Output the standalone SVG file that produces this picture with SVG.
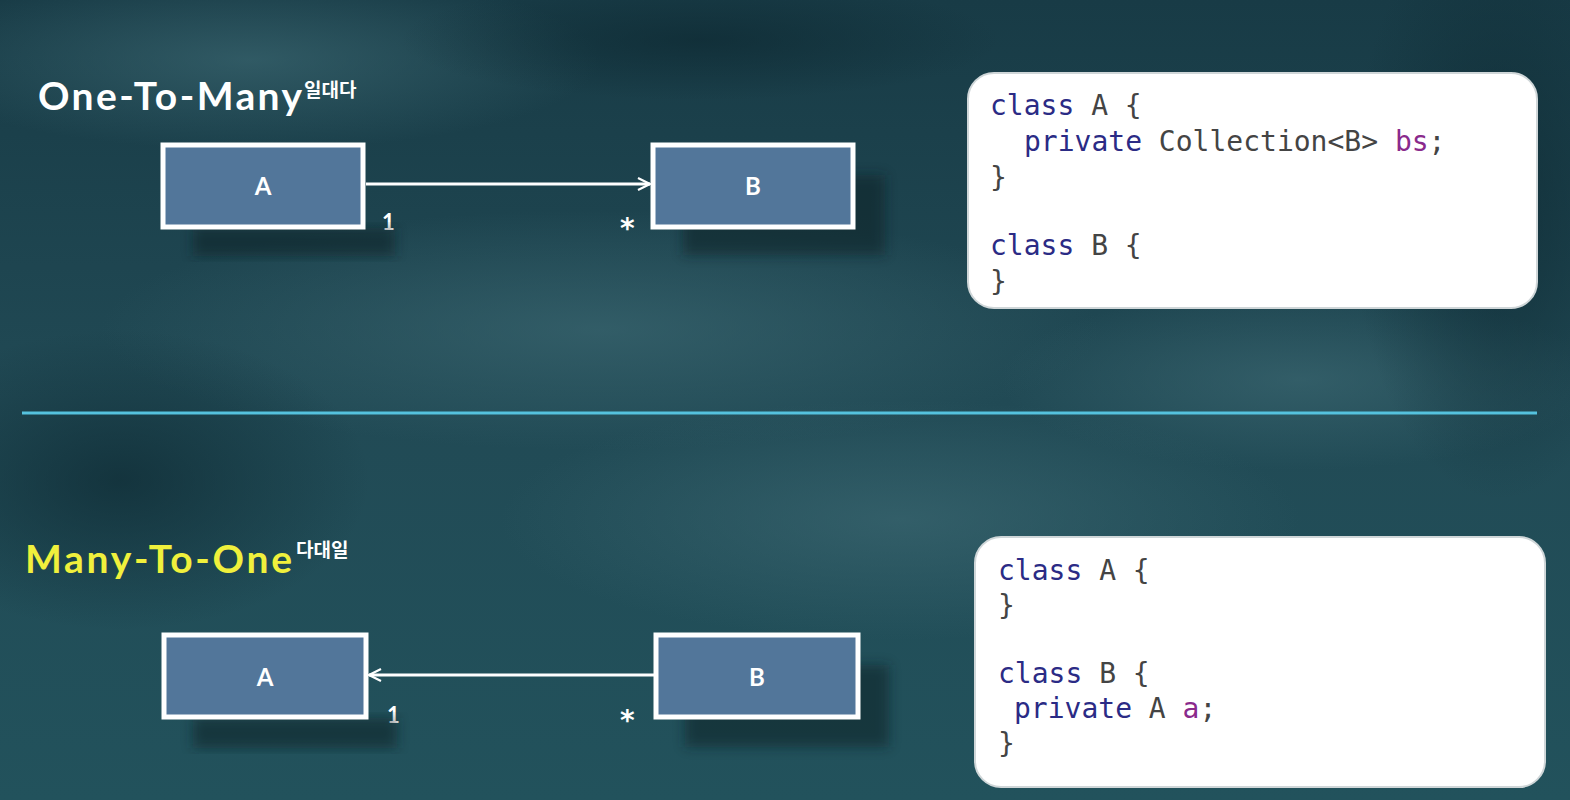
<svg xmlns="http://www.w3.org/2000/svg" width="1570" height="800" viewBox="0 0 1570 800">
<defs>
<linearGradient id="bg" x1="0" y1="0" x2="0" y2="1">
<stop offset="0" stop-color="#183b46"/>
<stop offset="0.5" stop-color="#214a55"/>
<stop offset="1" stop-color="#22525c"/>
</linearGradient>
<radialGradient id="blob1" cx="0.5" cy="0.5" r="0.5">
<stop offset="0" stop-color="#3a6670" stop-opacity="0.7"/>
<stop offset="1" stop-color="#3a6670" stop-opacity="0"/>
</radialGradient>
<radialGradient id="blob2" cx="0.5" cy="0.5" r="0.5">
<stop offset="0" stop-color="#0e2a33" stop-opacity="0.7"/>
<stop offset="1" stop-color="#0e2a33" stop-opacity="0"/>
</radialGradient>
<filter id="blur" x="-20%" y="-20%" width="140%" height="140%"><feGaussianBlur stdDeviation="6"/></filter>
<marker id="open" viewBox="0 0 14 14" refX="13" refY="7" markerWidth="14" markerHeight="14" markerUnits="userSpaceOnUse" orient="auto">
<path d="M1,1 L13,7 L1,13" fill="none" stroke="#ffffff" stroke-width="2.2"/>
</marker>
<style>
.box{fill:#52769a;stroke:#ffffff;stroke-width:5}
.shadow{fill:#0d2228;opacity:0.55}
.lbl{font-family:"Lato","Noto Sans",sans-serif;font-weight:700;font-size:24px;fill:#ffffff;text-anchor:middle}
.mult{font-family:"Lato","Noto Sans",sans-serif;font-weight:700;font-size:22px;fill:#ffffff}
.star{font-family:"DejaVu Sans",sans-serif;font-weight:700;font-size:28px;fill:#ffffff}
.title{font-family:"Lato","Noto Sans",sans-serif;font-weight:700;font-size:39px}
.sup{font-family:"Noto Sans CJK KR",sans-serif;font-weight:700;font-size:19px;fill:#ffffff}
.card{fill:#ffffff;stroke:#cfd6d8;stroke-width:2}
.code{font-family:"DejaVu Sans Mono","Liberation Mono",monospace;font-size:28px;fill:#444444}
.kw{fill:#2b2b85}
.var{fill:#8a2a8c}
.conn{stroke:#ffffff;stroke-width:3;fill:none}
</style>
</defs>
<rect x="0" y="0" width="1570" height="800" fill="url(#bg)"/>
<ellipse cx="600" cy="330" rx="500" ry="120" fill="url(#blob1)"/>
<ellipse cx="250" cy="60" rx="350" ry="90" fill="url(#blob1)"/>
<ellipse cx="900" cy="520" rx="400" ry="120" fill="url(#blob1)"/>
<ellipse cx="1300" cy="380" rx="300" ry="90" fill="url(#blob1)"/>
<ellipse cx="120" cy="480" rx="250" ry="150" fill="url(#blob2)"/>
<ellipse cx="700" cy="40" rx="300" ry="60" fill="url(#blob2)"/>
<ellipse cx="1500" cy="200" rx="150" ry="300" fill="url(#blob2)"/>
<line x1="22" y1="413" x2="1537" y2="413" stroke="#55c2de" stroke-width="3"/>

<text class="title" x="38" y="110" fill="#ffffff" textLength="264" lengthAdjust="spacing">One-To-Many</text>
<text class="sup" x="304" y="97">일대다</text>
<text class="title" x="25" y="573" fill="#f0f03c" textLength="267" lengthAdjust="spacing">Many-To-One</text>
<text class="sup" x="296" y="557">다대일</text>

<g id="connectors">
<line class="conn" x1="366" y1="184" x2="650" y2="184" marker-end="url(#open)"/>
<line class="conn" x1="655" y1="675" x2="369" y2="675" marker-end="url(#open)"/>
<text class="mult" x="382" y="230">1</text>
<text class="star" x="620" y="238">*</text>
<text class="mult" x="387" y="723">1</text>
<text class="star" x="620" y="730">*</text>
</g>

<g id="top-A">
<rect class="shadow" x="193" y="228" width="202" height="28" filter="url(#blur)"/>
<rect class="box" x="163" y="145" width="200" height="82"/>
<text class="lbl" x="263" y="195">A</text>
</g>
<g id="top-B">
<rect class="shadow" x="683" y="175" width="202" height="80" filter="url(#blur)"/>
<rect class="box" x="653" y="145" width="200" height="82"/>
<text class="lbl" x="753" y="195">B</text>
</g>
<g id="bottom-A">
<rect class="shadow" x="193" y="718" width="204" height="30" filter="url(#blur)"/>
<rect class="box" x="164" y="635" width="202" height="82"/>
<text class="lbl" x="265" y="686">A</text>
</g>
<g id="bottom-B">
<rect class="shadow" x="685" y="665" width="204" height="82" filter="url(#blur)"/>
<rect class="box" x="656" y="635" width="202" height="82"/>
<text class="lbl" x="757" y="686">B</text>
</g>

<g id="code-top">
<rect class="card" x="968" y="73" width="569" height="235" rx="26"/>
<text class="code" x="990" y="115"><tspan class="kw">class</tspan> A {</text>
<text class="code" x="1024" y="151"><tspan class="kw">private</tspan> Collection&lt;B&gt; <tspan class="var">bs</tspan>;</text>
<text class="code" x="990" y="187">}</text>
<text class="code" x="990" y="255"><tspan class="kw">class</tspan> B {</text>
<text class="code" x="990" y="291">}</text>
</g>
<g id="code-bottom">
<rect class="card" x="975" y="537" width="570" height="250" rx="26"/>
<text class="code" x="998" y="580"><tspan class="kw">class</tspan> A {</text>
<text class="code" x="998" y="615">}</text>
<text class="code" x="998" y="683"><tspan class="kw">class</tspan> B {</text>
<text class="code" x="1014" y="718"><tspan class="kw">private</tspan> A <tspan class="var">a</tspan>;</text>
<text class="code" x="998" y="753">}</text>
</g>
</svg>
